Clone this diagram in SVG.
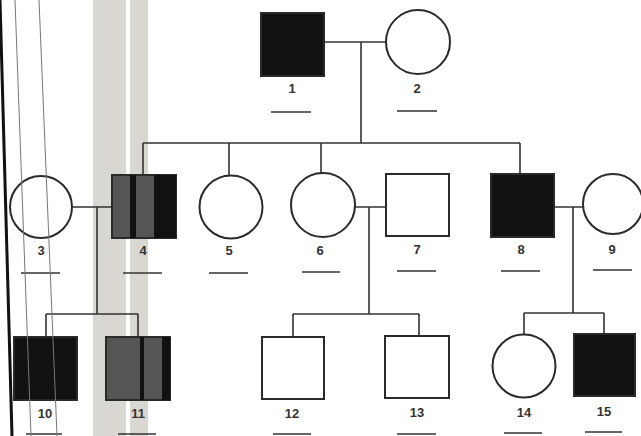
<svg xmlns="http://www.w3.org/2000/svg" width="641" height="436" viewBox="0 0 641 436">
<style>
.sym{stroke:#2a2a2a;stroke-width:2;fill:#fff}
.aff{fill:#111}
.gry{fill:#555}
.blk{fill:#111}
.ln{stroke:#333;stroke-width:1.6;fill:none}
.lbl{font-family:"Liberation Sans",Arial,sans-serif;font-size:13px;font-weight:bold;fill:#333;text-anchor:middle}
.ul{stroke:#333;stroke-width:1.3}
.band{fill:#d9d7d2}
.scan{stroke:#777;stroke-width:1;fill:none}
</style>
<rect width="641" height="436" fill="#fff"/>
<g id="scan-bands">
<rect class="band" x="93" y="0" width="33" height="436"/>
<rect class="band" x="130" y="0" width="18" height="436"/>
</g>
<g id="connectors">
<path class="ln" d="M324 42H386M361 42V143M143 143H520M143 143V175M229 143V175M321 143V173M520 143V174"/>
<path class="ln" d="M72 207H112M97 207V314M46 314H138M46 314V337M138 314V337"/>
<path class="ln" d="M355 207H386M369 207V314M293 314H419M293 314V337M419 314V336"/>
<path class="ln" d="M554 207H583M573 207V313M524 313H604M524 313V335M604 313V334"/>
</g>
<g id="n1"><rect class="sym aff" x="261" y="13" width="63" height="63"/><text class="lbl" x="292" y="93">1</text><line class="ul" x1="271" y1="112" x2="311" y2="112"/></g>
<g id="n2"><circle class="sym" cx="418" cy="42" r="32"/><text class="lbl" x="417" y="93">2</text><line class="ul" x1="397" y1="111" x2="437" y2="111"/></g>
<g id="n3"><circle class="sym" cx="41" cy="207" r="31"/><text class="lbl" x="41" y="255">3</text><line class="ul" x1="21" y1="273" x2="60" y2="273"/></g>
<g id="n4"><rect class="sym gry" x="112" y="175" width="64" height="63"/><rect class="blk" x="130" y="175" width="6" height="63"/><rect class="blk" x="154" y="175" width="22" height="63"/><text class="lbl" x="143" y="255">4</text><line class="ul" x1="123" y1="273" x2="162" y2="273"/></g>
<g id="n5"><circle class="sym" cx="231" cy="207" r="31.5"/><text class="lbl" x="229" y="255">5</text><line class="ul" x1="209" y1="273" x2="248" y2="273"/></g>
<g id="n6"><circle class="sym" cx="323" cy="205" r="32"/><text class="lbl" x="320" y="255">6</text><line class="ul" x1="302" y1="272" x2="340" y2="272"/></g>
<g id="n7"><rect class="sym" x="386" y="174" width="63" height="62"/><text class="lbl" x="417" y="254">7</text><line class="ul" x1="397" y1="271" x2="436" y2="271"/></g>
<g id="n8"><rect class="sym aff" x="491" y="174" width="63" height="63"/><text class="lbl" x="521" y="254">8</text><line class="ul" x1="501" y1="271" x2="540" y2="271"/></g>
<g id="n9"><circle class="sym" cx="613" cy="204" r="30"/><text class="lbl" x="612" y="254">9</text><line class="ul" x1="593" y1="270" x2="632" y2="270"/></g>
<g id="n10"><rect class="sym aff" x="14" y="337" width="63" height="63"/><text class="lbl" x="45" y="418">10</text><line class="ul" x1="26" y1="434" x2="62" y2="434"/></g>
<g id="n11"><rect class="sym gry" x="106" y="337" width="64" height="63"/><rect class="blk" x="140" y="337" width="4" height="63"/><rect class="blk" x="162" y="337" width="8" height="63"/><text class="lbl" x="138" y="418">11</text><line class="ul" x1="118" y1="434" x2="156" y2="434"/></g>
<g id="n12"><rect class="sym" x="262" y="337" width="62" height="62"/><text class="lbl" x="292" y="418">12</text><line class="ul" x1="273" y1="434" x2="311" y2="434"/></g>
<g id="n13"><rect class="sym" x="385" y="336" width="64" height="62"/><text class="lbl" x="417" y="417">13</text><line class="ul" x1="397" y1="434" x2="436" y2="434"/></g>
<g id="n14"><circle class="sym" cx="524" cy="366" r="31.5"/><text class="lbl" x="524" y="417">14</text><line class="ul" x1="504" y1="433" x2="542" y2="433"/></g>
<g id="n15"><rect class="sym aff" x="574" y="334" width="61" height="62"/><text class="lbl" x="604" y="416">15</text><line class="ul" x1="585" y1="432" x2="622" y2="432"/></g>
<g id="scan-lines">
<line class="scan" x1="15" y1="0" x2="31" y2="436"/>
<line class="scan" x1="39" y1="0" x2="57" y2="436"/>
<line x1="0" y1="0" x2="12" y2="436" stroke="#111" stroke-width="3"/>
</g>
</svg>
